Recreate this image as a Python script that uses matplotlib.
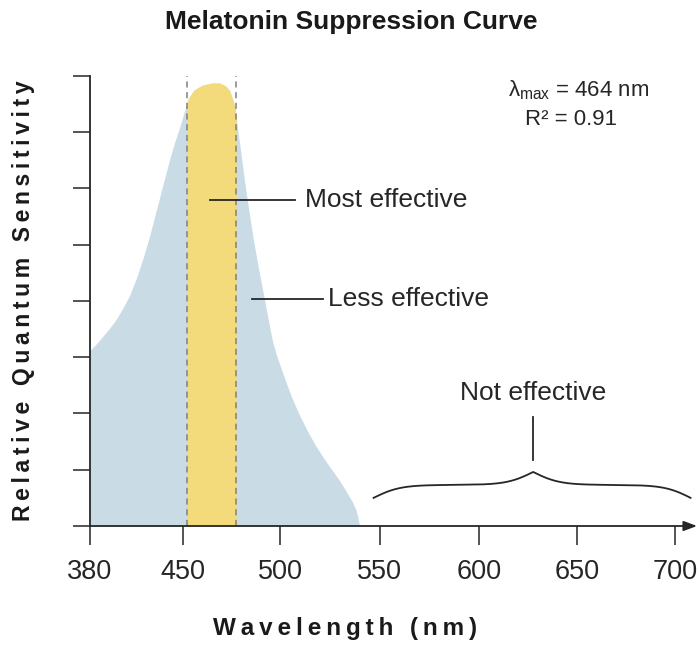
import numpy as np
import matplotlib
matplotlib.use("Agg")
import matplotlib.pyplot as plt

plt.rcParams['font.family'] = ['Liberation Sans', 'DejaVu Sans']
plt.rcParams['mathtext.fontset'] = 'custom'
plt.rcParams['mathtext.rm'] = 'Liberation Sans'
plt.rcParams['mathtext.it'] = 'Liberation Sans'

# -----------------------------
# data
# -----------------------------
tick_wl = [380, 450, 500, 550, 600, 650, 700]
tick_labels = ["380", "450", "500", "550", "600", "650", "700"]

curve_wl = [380, 385, 390, 395, 400, 405, 410, 415, 420, 425, 430, 435, 440, 444,
            448, 451, 453, 456, 460, 465, 469, 472, 474, 476, 477, 478, 479, 480,
            482, 484, 486, 488, 490, 492, 494, 496, 498, 500, 503, 506, 510, 514,
            518, 522, 526, 530, 533, 536, 538, 539, 540]
curve_y = [3.12, 3.24, 3.38, 3.52, 3.68, 3.88, 4.1, 4.4, 4.75, 5.15, 5.6, 6.05, 6.5, 6.82,
           7.1, 7.38, 7.6, 7.75, 7.83, 7.87, 7.87, 7.82, 7.74, 7.55, 7.4, 7.12, 6.85, 6.6,
           6.07, 5.6, 5.15, 4.75, 4.38, 4.02, 3.65, 3.3, 3.05, 2.85, 2.55, 2.27, 1.95, 1.67,
           1.42, 1.2, 1.0, 0.8, 0.63, 0.45, 0.3, 0.17, 0.0]

band_wl = [452, 477.5]          # most effective band (dashed lines)
brace_wl = [547, 708]           # "not effective" range
lam_max = 464
r2 = 0.91

BLUE = "#c9dce5"
YELLOW = "#f3da7a"
INK = "#262626"


# piecewise axis: ticks (almost) equally spaced
tw = np.array(tick_wl, float)
tp = np.array([0, 0.95, 1.95, 2.97, 3.99, 5.0, 6.0])

def fwd(w):
    w = np.asarray(w, float)
    x = np.interp(w, tw, tp)
    x = np.where(w < tw[0], (w - tw[0]) / 70.0, x)
    x = np.where(w > tw[-1], tp[-1] + (w - tw[-1]) / 50.0, x)
    return x

def inv(x):
    x = np.asarray(x, float)
    w = np.interp(x, tp, tw)
    w = np.where(x < tp[0], tw[0] + x * 70.0, w)
    w = np.where(x > tp[-1], tw[-1] + (x - tp[-1]) * 50.0, w)
    return w

def spaced(s):
    # letter-spaced label, thin spaces between letters
    return "\u2009 \u2009".join("\u2009".join(word) for word in s.split(" "))


fig = plt.figure(figsize=(6.99, 6.46), dpi=100)
ax = fig.add_axes([90 / 699, 1 - 526 / 646, 607 / 699, 450.3 / 646])
ax.set_xscale('function', functions=(fwd, inv))
ax.set_xlim(380, 711.3)
ax.set_ylim(0, 8)

cw = np.array(curve_wl, float)
cy = np.array(curve_y)
ax.fill_between(cw, 0, cy, color=BLUE, lw=0, zorder=1)
inband = (cw > band_wl[0]) & (cw < band_wl[1])
bw = np.concatenate([[band_wl[0]], cw[inband], [band_wl[1]]])
by = np.interp(bw, cw, cy)
ax.fill_between(bw, 0, by, color=YELLOW, lw=0, zorder=2)
for w in band_wl:
    ax.axvline(w, color="#808080", lw=1.1, ls=(0, (4, 3)), zorder=3)

# axes styling
for s in ["top", "right", "bottom"]:
    ax.spines[s].set_visible(False)
ax.spines["left"].set_color(INK)
ax.spines["left"].set_linewidth(1.3)
ax.set_yticks(range(0, 9))
ax.set_yticklabels([])
ax.tick_params(axis="y", direction="out", length=12.5, width=1.1, color=INK)
ax.set_xticks(tick_wl)
ax.set_xticklabels(tick_labels, fontsize=19.5, color=INK)
ax.tick_params(axis="x", direction="out", length=14, width=1.1, color=INK, pad=10)
ax.annotate("", xy=(1, 0), xycoords="axes fraction", xytext=(0, 0),
            arrowprops=dict(arrowstyle="-|>,head_length=0.8,head_width=0.3",
                            color=INK, lw=1.3, shrinkA=0, shrinkB=0))

# annotations
ax.plot([lam_max, 507.5], [5.8, 5.8], color=INK, lw=1.3, zorder=4)
ax.text(512.5, 5.8, "Most effective", fontsize=19, color=INK, va="center", ha="left")
ax.plot([485.4, 521.5], [4.03, 4.03], color=INK, lw=1.3, zorder=4)
ax.text(524, 4.03, "Less effective", fontsize=19, color=INK, va="center", ha="left")

bx = np.linspace(brace_wl[0], brace_wl[1], 401)
half = bx[:201]
beta = 0.15
yh = 1 / (1 + np.exp(-beta * (half - half[0]))) + 1 / (1 + np.exp(-beta * (half - half[-1])))
yb = np.concatenate([yh, yh[-2::-1]])
ax.plot(bx, 0.27 + 0.46 * yb, color=INK, lw=1.3, zorder=4)
mid = (brace_wl[0] + brace_wl[1]) / 2
ax.plot([mid, mid], [1.17, 1.94], color=INK, lw=1.3)
ax.text(mid, 2.36, "Not effective", fontsize=19, color=INK, ha="center", va="center")

fig.text(508 / 699, 1 - 96 / 646, r"$\lambda_{\rm max}$ = %d nm" % lam_max,
         fontsize=16, color=INK, ha="left", va="baseline")
fig.text(525 / 699, 1 - 125 / 646, "R\u00b2 = %.2f" % r2,
         fontsize=16, color=INK, ha="left", va="baseline")

fig.text(351 / 699, 1 - 29 / 646, "Melatonin Suppression Curve", fontsize=19,
         fontweight="bold", color="#1a1a1a", ha="center", va="baseline")
fig.text(345 / 699, 1 - 628 / 646, "\u2009".join("Wavelength (nm)"), fontsize=17.5,
         fontweight="bold", color="#1a1a1a", ha="center", va="center")
fig.text(24 / 699, 1 - 301 / 646, spaced("Relative Quantum Sensitivity"), fontsize=16.6,
         fontweight="bold", color="#1a1a1a", ha="center", va="center", rotation=90)

fig.savefig("out.png", dpi=100)
